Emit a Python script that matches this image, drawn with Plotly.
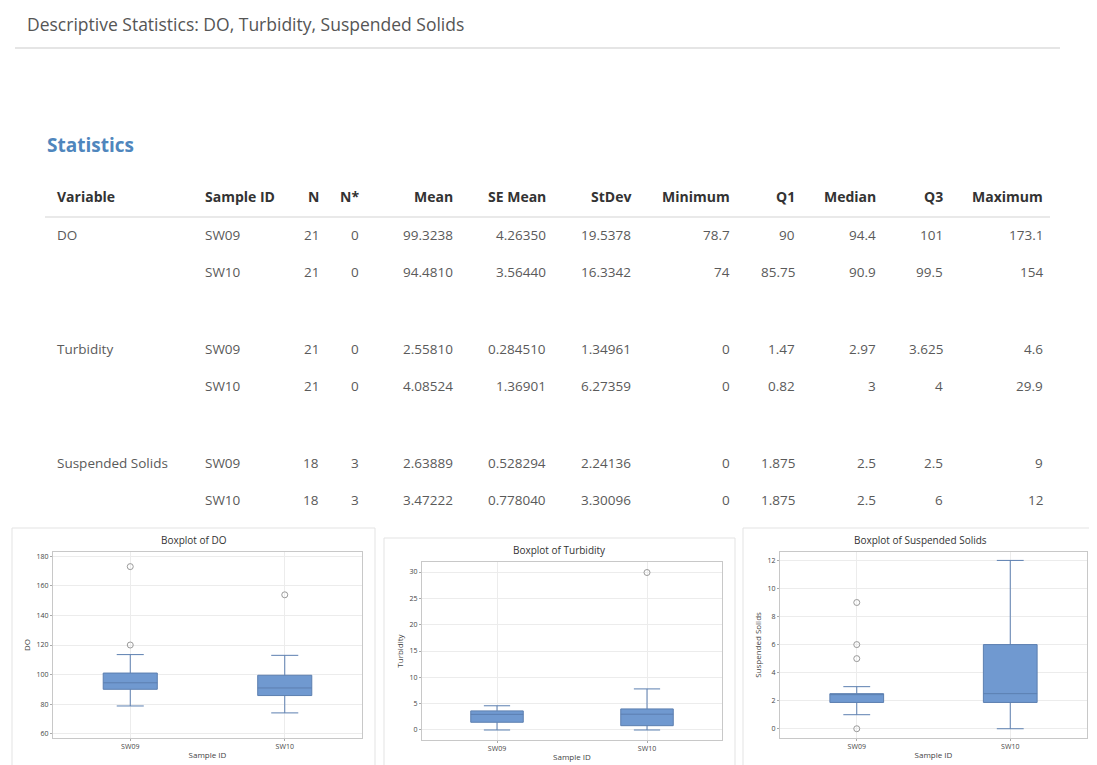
"""
Descriptive statistics table + three boxplots (DO, Turbidity, Suspended Solids).
"""
import plotly.graph_objects as go

# the browser page keeps its default 8px body margin, so the figure is drawn
# that much smaller and every page coordinate below is shifted by it
PAGE_PAD = 8
W, H = 1097 - PAGE_PAD, 765 - PAGE_PAD

# ---- table data ----
VARIABLES = ["DO", "Turbidity", "Suspended Solids"]
SAMPLE_IDS = ["SW09", "SW10"]
N_VALS = [21, 21, 21, 21, 18, 18]
NSTAR_VALS = [0, 0, 0, 0, 3, 3]
MEAN = ["99.3238", "94.4810", "2.55810", "4.08524", "2.63889", "3.47222"]
SE_MEAN = ["4.26350", "3.56440", "0.284510", "1.36901", "0.528294", "0.778040"]
STDEV = ["19.5378", "16.3342", "1.34961", "6.27359", "2.24136", "3.30096"]
MINIMUM = ["78.7", "74", "0", "0", "0", "0"]
Q1 = ["90", "85.75", "1.47", "0.82", "1.875", "1.875"]
MEDIAN = ["94.4", "90.9", "2.97", "3", "2.5", "2.5"]
Q3 = ["101", "99.5", "3.625", "4", "2.5", "6"]
MAXIMUM = ["173.1", "154", "4.6", "29.9", "9", "12"]

# ---- boxplot stats (whisker ends / outliers) ----
DO_Q1 = [90, 85.75]
DO_MED = [94.4, 90.9]
DO_Q3 = [101, 99.5]
DO_LO = [78.7, 74]
DO_HI = [113.5, 113]
DO_OUT_X = ["SW09", "SW09", "SW10"]
DO_OUT_Y = [120, 173.1, 154]

TB_Q1 = [1.47, 0.82]
TB_MED = [2.97, 3]
TB_Q3 = [3.625, 4]
TB_LO = [0, 0]
TB_HI = [4.6, 7.8]
TB_OUT_X = ["SW10"]
TB_OUT_Y = [29.9]

SS_Q1 = [1.875, 1.875]
SS_MED = [2.5, 2.5]
SS_Q3 = [2.5, 6]
SS_LO = [1, 0]
SS_HI = [3, 12]
SS_OUT_X = ["SW09", "SW09", "SW09", "SW09"]
SS_OUT_Y = [0, 5, 6, 9]

FONT = "Open Sans, Noto Sans, sans-serif"
HEAD_COLOR = "#333333"
CELL_COLOR = "#5a5a5a"
BOX_FILL = "#7099d0"
BOX_LINE = "#5c7fb0"
AX_FONT = dict(size=7, color="#444", family=FONT)


def px(x):
    return (x - PAGE_PAD) / W


def py(y):
    return 1 - (y - PAGE_PAD) / H


fig = go.Figure()
annotations = []
shapes = []


def text(x, y, s, anchor="left", size=13, color=CELL_COLOR, bold=False, **kw):
    if bold:
        s = f"<b>{s}</b>"
    annotations.append(dict(
        x=px(x), y=py(y), xref="paper", yref="paper", text=s, showarrow=False,
        xanchor=anchor, yanchor="middle", font=dict(size=size, color=color, family=FONT), **kw,
    ))


# ---- header area ----
text(25, 24, "Descriptive Statistics: DO, Turbidity, Suspended Solids", size=17.5, color="#555555")
shapes.append(dict(type="line", xref="paper", yref="paper", x0=px(15), x1=px(1060),
                   y0=py(48), y1=py(48), line=dict(color="#dcdcdc", width=1.5)))
text(45, 145, "Statistics", size=19, color="#4f86bd", bold=True)

# columns: (header, x, anchor)
columns = [
    ("Variable", 55, "left"), ("Sample ID", 203, "left"), ("N", 321, "right"),
    ("N*", 361, "right"), ("Mean", 455, "right"), ("SE Mean", 548, "right"),
    ("StDev", 633, "right"), ("Minimum", 732, "right"), ("Q1", 797, "right"),
    ("Median", 878, "right"), ("Q3", 945, "right"), ("Maximum", 1045, "right"),
]
header_y = 197
for name, x, anchor in columns:
    text(x, header_y, name, anchor=anchor, size=14, color=HEAD_COLOR, bold=True)
shapes.append(dict(type="line", xref="paper", yref="paper", x0=px(45), x1=px(1050),
                   y0=py(217), y1=py(217), line=dict(color="#e2e2e2", width=1.5)))

row_pitch, group_gap, first_row = 37, 40, 235
for i in range(6):
    g = i // 2
    y = first_row + i * row_pitch + g * group_gap
    cells = [
        VARIABLES[g] if i % 2 == 0 else "", SAMPLE_IDS[i % 2], N_VALS[i], NSTAR_VALS[i],
        MEAN[i], SE_MEAN[i], STDEV[i], MINIMUM[i], Q1[i], MEDIAN[i], Q3[i], MAXIMUM[i],
    ]
    for (name, x, anchor), val in zip(columns, cells):
        if val == "":
            continue
        text(x, y, str(val), anchor=anchor, size=13.5)

# ---- boxplot panels ----
panels = [
    dict(frame=(12, 528, 375, 766), plot=(53, 552, 362, 738), title="Boxplot of DO",
         ytitle="DO", rng=[57, 183], dtick=20,
         q1=DO_Q1, med=DO_MED, q3=DO_Q3, lo=DO_LO, hi=DO_HI, ox=DO_OUT_X, oy=DO_OUT_Y),
    dict(frame=(384, 538, 735, 766), plot=(422, 562, 722, 740), title="Boxplot of Turbidity",
         ytitle="Turbidity", rng=[-1.9, 31.9], dtick=5,
         q1=TB_Q1, med=TB_MED, q3=TB_Q3, lo=TB_LO, hi=TB_HI, ox=TB_OUT_X, oy=TB_OUT_Y),
    dict(frame=(743, 528, 1098, 766), plot=(780, 552, 1087, 738), title="Boxplot of Suspended Solids",
         ytitle="Suspended Solids", rng=[-0.66, 12.6], dtick=2,
         q1=SS_Q1, med=SS_MED, q3=SS_Q3, lo=SS_LO, hi=SS_HI, ox=SS_OUT_X, oy=SS_OUT_Y),
]

layout_axes = {}
for k, p in enumerate(panels, start=1):
    fx0, fy0, fx1, fy1 = p["frame"]
    shapes.append(dict(type="rect", xref="paper", yref="paper", x0=px(fx0), x1=px(fx1),
                       y0=py(fy1), y1=py(fy0), line=dict(color="#e3e3e3", width=1),
                       fillcolor="rgba(0,0,0,0)", layer="below"))
    x0, y0, x1, y1 = p["plot"]
    xa, ya = f"x{k}" if k > 1 else "x", f"y{k}" if k > 1 else "y"
    fig.add_trace(go.Box(
        x=SAMPLE_IDS, q1=p["q1"], median=p["med"], q3=p["q3"],
        lowerfence=p["lo"], upperfence=p["hi"], width=0.35,
        fillcolor=BOX_FILL, line=dict(color=BOX_LINE, width=1),
        boxpoints=False, showlegend=False, xaxis=xa, yaxis=ya, hoverinfo="skip",
    ))
    fig.add_trace(go.Scatter(
        x=p["ox"], y=p["oy"], mode="markers", showlegend=False, xaxis=xa, yaxis=ya,
        marker=dict(symbol="circle-open", size=6, color="#9a9a9a", line=dict(width=1)),
        hoverinfo="skip",
    ))
    axis_common = dict(showline=True, mirror=True, linecolor="#c8c8c8", linewidth=1,
                       showgrid=True, gridcolor="#ececec", zeroline=False,
                       tickfont=AX_FONT, ticks="outside", ticklen=2, tickcolor="#aaa")
    layout_axes[f"xaxis{k if k > 1 else ''}"] = dict(
        domain=[px(x0), px(x1)], anchor=ya, type="category", range=[-0.5, 1.5],
        title=dict(text="Sample ID", font=dict(size=8, color="#444", family=FONT), standoff=1),
        **axis_common,
    )
    layout_axes[f"yaxis{k if k > 1 else ''}"] = dict(
        domain=[py(y1), py(y0)], anchor=xa, range=p["rng"], dtick=p["dtick"],
        title=dict(text=p["ytitle"], font=dict(size=8, color="#444", family=FONT), standoff=4),
        **axis_common,
    )
    text((fx0 + fx1) / 2, fy0 + 12, p["title"], anchor="center", size=10, color="#333")

fig.update_layout(
    width=W, height=H,
    margin=dict(l=0, r=0, t=0, b=0),
    paper_bgcolor="white", plot_bgcolor="white",
    annotations=annotations, shapes=shapes,
    **layout_axes,
)

fig.write_html("out.html")
